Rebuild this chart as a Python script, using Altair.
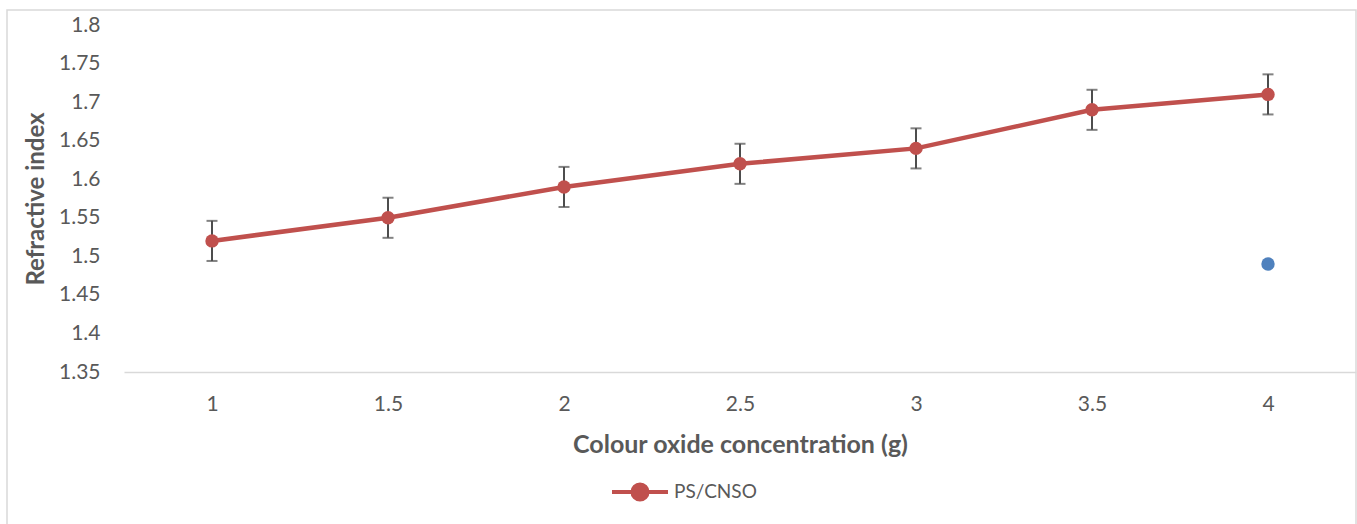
import altair as alt
import pandas as pd

conc = [1, 1.5, 2, 2.5, 3, 3.5, 4]
refractive = [1.52, 1.55, 1.59, 1.62, 1.64, 1.69, 1.71]
err = [0.026, 0.026, 0.026, 0.026, 0.026, 0.026, 0.026]
extra_x = [4]
extra_y = [1.49]
x_ticks = [1, 1.5, 2, 2.5, 3, 3.5, 4]
y_ticks = [1.35, 1.4, 1.45, 1.5, 1.55, 1.6, 1.65, 1.7, 1.75, 1.8]

RED = "#C0504D"
BLUE = "#4F81BD"
GREY = "#595959"
FONT = "Lato"

df = pd.DataFrame({
    "conc": conc,
    "ri": refractive,
    "lo": [v - e for v, e in zip(refractive, err)],
    "hi": [v + e for v, e in zip(refractive, err)],
    "series": ["PS/CNSO"] * len(conc),
})
df2 = pd.DataFrame({"conc": extra_x, "ri": extra_y})

W, H = 1232, 347

xscale = alt.Scale(domain=[0.75, 4.25], nice=False, zero=False)
xaxis = alt.Axis(
    title="Colour oxide concentration (g)",
    values=x_ticks,
    format="~g",
    labelAngle=0,
    ticks=False,
    grid=False,
    labelOverlap=False,
    domainColor="#D9D9D9",
    domainWidth=1.5,
    labelFont=FONT,
    labelFontSize=21,
    labelColor=GREY,
    labelPadding=21,
    titleFont=FONT,
    titleFontSize=25,
    titleFontWeight="bold",
    titleColor=GREY,
    titlePadding=18,
)
yscale = alt.Scale(domain=[1.35, 1.8], nice=False, zero=False)
yaxis = alt.Axis(
    title="Refractive index",
    values=y_ticks,
    format=".2~f",
    ticks=False,
    domain=False,
    grid=False,
    labelOverlap=False,
    labelFont=FONT,
    labelFontSize=21,
    labelColor=GREY,
    labelPadding=24,
    titleFont=FONT,
    titleFontSize=24,
    titleFontWeight="bold",
    titleColor=GREY,
    titlePadding=10,
)

color = alt.Color(
    "series:N",
    scale=alt.Scale(range=[RED]),
    legend=alt.Legend(
        title=None,
        orient="none",
        legendX=486,
        legendY=437,
        symbolType="M-1,0L1,0M-0.27,0A0.27,0.27,0,1,1,0.27,0A0.27,0.27,0,1,1,-0.27,0Z",
        symbolSize=3136,
        symbolStrokeWidth=4,
        symbolFillColor=RED,
        symbolStrokeColor=RED,
        labelFont=FONT,
        labelFontSize=19,
        labelColor=GREY,
        labelOffset=4,
    ),
)

base = alt.Chart(df)


def X():
    return alt.X("conc:Q", scale=xscale, axis=xaxis)


def Y(field):
    return alt.Y(field, scale=yscale, axis=yaxis)


line = base.mark_line(strokeWidth=4.5, color=RED).encode(
    x=X(), y=Y("ri:Q"), color=color
)
pts = base.mark_point(filled=True, size=180, opacity=1).encode(
    x=X(), y=Y("ri:Q"), color=color
)
bars = base.mark_rule(color="#4D4D4D", strokeWidth=2).encode(
    x=X(), y=Y("lo:Q"), y2="hi:Q"
)
caps_lo = base.mark_tick(color="#4D4D4D", thickness=2, size=11, orient="horizontal").encode(
    x=X(), y=Y("lo:Q")
)
caps_hi = base.mark_tick(color="#4D4D4D", thickness=2, size=11, orient="horizontal").encode(
    x=X(), y=Y("hi:Q")
)
blue = alt.Chart(df2).mark_point(filled=True, size=180, opacity=1, color=BLUE).encode(
    x=X(), y=Y("ri:Q")
)
border = alt.Chart(df2).mark_rect(fill=None, stroke="#D9D9D9", strokeWidth=1.5).encode(
    x=alt.value(-117), x2=alt.value(1232), y=alt.value(-15), y2=alt.value(520)
)

chart = alt.layer(border, bars, caps_lo, caps_hi, line, pts, blue).properties(
    width=W,
    height=H,
    autosize=alt.AutoSizeParams(type="none"),
    padding={"left": 124, "top": 25, "right": 1, "bottom": 152},
).configure(background="white").configure_view(stroke=None).configure_axis(labelOverlap=False)

chart.save("out.html", embed_options={"renderer": "svg", "actions": False})
